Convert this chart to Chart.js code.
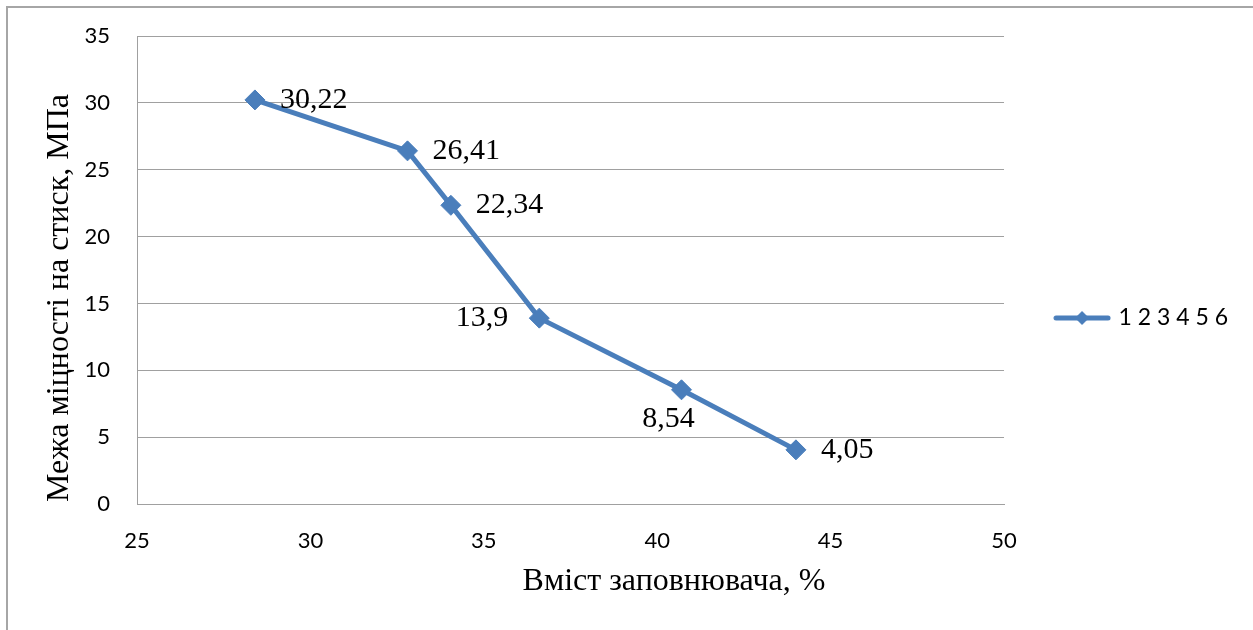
<!DOCTYPE html>
<html>
<head>
<meta charset="utf-8">
<script src="https://cdn.jsdelivr.net/npm/chart.js@4.4.0/dist/chart.umd.min.js"></script>
<style>
  html, body { margin: 0; padding: 0; background: #fff; }
  #wrap { position: relative; width: 1253px; height: 630px; overflow: hidden; }
  #frame { position: absolute; left: 6px; top: 6px; width: 1300px; height: 700px; border-left: 2px solid #a6a6a6; border-top: 2px solid #a6a6a6; }
  canvas { position: absolute; left: 0; top: 0; }
</style>
</head>
<body>
<div id="wrap">
  <div id="frame"></div>
  <canvas id="strengthChart" width="1253" height="630"></canvas>
</div>
<script>
// data
const fillerContent = [28.4, 32.8, 34.05, 36.6, 40.7, 44.0];   // %
const strength = [30.22, 26.41, 22.34, 13.9, 8.54, 4.05];        // MPa
const seriesName = '1 2 3 4 5 6';
const xTitle = 'Вміст заповнювача, %';
const yTitle = 'Межа міцності на стиск, МПа';
const xRange = [25, 50, 5];
const yRange = [0, 35, 5];

const blue = '#4a7ebb';
const gridGrey = '#a0a0a0';
const tickFont = { family: 'Lato', size: 22 };
const serif = 'Liberation Serif';

// legend icon: line with diamond, like the office chart
const legendIcon = document.createElement('canvas');
legendIcon.width = 58;
legendIcon.height = 18;
(function () {
    const c = legendIcon.getContext('2d');
    c.strokeStyle = blue;
    c.lineWidth = 5;
    c.lineCap = 'round';
    c.beginPath();
    c.moveTo(3, 9);
    c.lineTo(55, 9);
    c.stroke();
    c.fillStyle = blue;
    c.beginPath();
    c.moveTo(29, 2);
    c.lineTo(36, 9);
    c.lineTo(29, 16);
    c.lineTo(22, 9);
    c.closePath();
    c.fill();
})();

// where each value label sits relative to its point
const labelPlace = ['right', 'right', 'right', 'left', 'below', 'right'];

const valueLabels = {
    id: 'valueLabels',
    afterDatasetsDraw(chart) {
        const ctx = chart.ctx;
        const meta = chart.getDatasetMeta(0);
        ctx.save();
        ctx.font = '30px "' + serif + '"';
        ctx.fillStyle = '#000';
        ctx.textBaseline = 'middle';
        meta.data.forEach((pt, i) => {
            const txt = String(strength[i]).replace('.', ',');
            const place = labelPlace[i];
            if (place === 'right') {
                ctx.textAlign = 'left';
                ctx.fillText(txt, pt.x + 25, pt.y);
            } else if (place === 'left') {
                ctx.textAlign = 'right';
                ctx.fillText(txt, pt.x - 31, pt.y);
            } else {
                ctx.textAlign = 'center';
                ctx.fillText(txt, pt.x - 13, pt.y + 29);
            }
        });
        ctx.restore();
    }
};

const axisTitles = {
    id: 'axisTitles',
    afterDraw(chart) {
        const ctx = chart.ctx;
        ctx.save();
        ctx.font = '32px "' + serif + '"';
        ctx.fillStyle = '#000';
        ctx.textAlign = 'center';
        ctx.textBaseline = 'middle';
        ctx.fillText(xTitle, 674, 582);
        ctx.translate(60, 298);
        ctx.rotate(-Math.PI / 2);
        ctx.fillText(yTitle, 0, 0);
        ctx.restore();
    }
};

document.addEventListener('DOMContentLoaded', function () {
    const ctx = document.getElementById('strengthChart');
    new Chart(ctx, {
        type: 'scatter',
        data: {
            datasets: [{
                label: seriesName,
                data: fillerContent.map((x, i) => ({ x: x, y: strength[i] })),
                showLine: true,
                borderColor: blue,
                backgroundColor: blue,
                borderWidth: 5,
                pointStyle: 'rectRot',
                pointRadius: 10,
                pointBorderWidth: 1,
                pointBackgroundColor: blue,
                pointBorderColor: blue,
                tension: 0
            }]
        },
        options: {
            responsive: false,
            animation: false,
            devicePixelRatio: 1,
            layout: { padding: { left: 10, top: 36, right: 15, bottom: 30 } },
            events: [],
            plugins: {
                tooltip: { enabled: false },
                legend: {
                    position: 'right',
                    maxWidth: 249,
                    labels: {
                        padding: 53,
                        usePointStyle: true,
                        pointStyleWidth: 50,
                        color: '#000',
                        font: { family: 'Lato', size: 23 },
                        generateLabels(chart) {
                            const items = Chart.defaults.plugins.legend.labels.generateLabels(chart);
                            items.forEach(it => { it.pointStyle = legendIcon; });
                            return items;
                        }
                    }
                }
            },
            scales: {
                x: {
                    type: 'linear',
                    min: xRange[0],
                    max: xRange[1],
                    ticks: { stepSize: xRange[2], color: '#000', font: tickFont, padding: 24, maxRotation: 0 },
                    grid: { display: false, drawTicks: false },
                    border: { display: true, color: gridGrey, width: 1 },
                    afterFit(scale) { scale.height = 96; scale.paddingLeft = 0; scale.paddingRight = 0; }
                },
                y: {
                    type: 'linear',
                    min: yRange[0],
                    max: yRange[1],
                    ticks: { stepSize: yRange[2], color: '#000', font: tickFont, padding: 27 },
                    grid: { color: gridGrey, lineWidth: 1, drawTicks: false },
                    border: { display: true, color: gridGrey, width: 1 },
                    afterFit(scale) { scale.width = 127; scale.paddingTop = 0; scale.paddingBottom = 0; }
                }
            }
        },
        plugins: [valueLabels, axisTitles]
    });
});
</script>
</body>
</html>
